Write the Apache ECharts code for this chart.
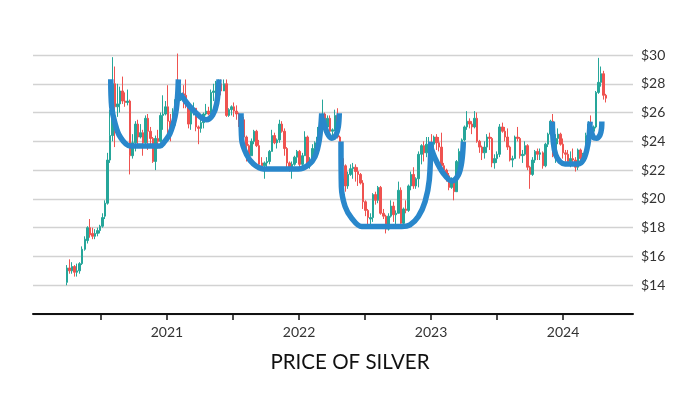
<!DOCTYPE html>
<html><head><meta charset="utf-8">
<script src="https://cdn.jsdelivr.net/npm/echarts@6/dist/echarts.min.js"></script>
<style>html,body{margin:0;padding:0;background:#fff}#c{width:700px;height:394px}</style>
</head><body><div id="c"></div>
<script>
const chartTitle = 'PRICE OF SILVER';
const firstWeek = '2020-03-30'; // Monday of the first weekly candle
// weekly candles: [open, close, low, high]
const ohlc2020 = [
[14.2,15.2,14.0,15.4],[15.2,15.0,14.8,15.8],[15.0,15.3,14.8,15.6],[15.3,14.9,14.6,15.4],[14.9,15.0,14.6,15.5],
[15.0,15.5,14.8,15.6],[15.5,16.5,15.4,16.7],[16.5,17.2,16.4,17.4],[17.1,18.0,16.9,18.1],[18.0,17.5,17.3,18.6],
[17.6,17.4,17.2,18.0],[17.4,17.6,17.2,17.9],[17.6,17.8,17.4,18.0],[17.8,18.1,17.6,18.2],[18.1,18.7,18.0,19.0],
[18.8,19.7,18.6,19.9],[19.7,22.7,19.6,23.2],[22.7,24.4,22.5,26.2],[24.4,28.0,24.0,29.85],[28.0,26.4,23.6,29.2],
[26.4,26.6,25.7,28.0],[26.6,27.5,26.0,27.8],[27.5,26.8,26.6,28.5],[26.8,26.7,26.4,27.4],[26.7,26.8,26.5,27.6],
[26.8,23.0,21.7,26.9],[23.0,23.9,22.8,24.5],[23.9,25.2,23.3,25.4],[25.2,24.3,23.8,25.5],[24.3,24.6,24.2,25.2],
[24.6,23.9,23.0,24.8],[23.9,25.6,23.6,25.8],[25.6,24.7,23.4,25.9],[24.7,24.2,23.8,25.0],[24.2,22.6,22.5,24.3],
[22.6,24.2,22.0,24.4],[24.2,24.0,23.5,24.8],[24.0,25.8,23.9,26.0],[25.8,25.9,24.8,27.2],[25.9,26.4,25.8,26.8]
];
const ohlc2021 = [
[26.4,25.4,24.5,27.9],[25.4,24.8,24.0,25.9],[24.8,25.6,24.8,26.3],[25.6,26.9,25.1,27.3],[27.0,26.9,25.9,30.1],
[26.9,27.3,26.8,27.9],[27.3,27.2,26.3,27.9],[27.2,26.6,26.3,28.3],[26.6,25.2,24.9,26.8],[25.2,26.2,24.8,26.3],
[26.2,26.3,25.8,26.7],[26.3,25.0,24.7,26.3],[25.0,24.9,23.8,25.1],[24.9,25.3,24.6,25.5],[25.3,25.9,24.9,26.0],
[25.9,26.1,25.8,26.6],[26.1,25.9,25.8,26.4],[25.9,27.4,25.9,27.6],[27.4,27.5,26.8,28.0],[27.5,27.9,27.1,28.2],
[27.9,28.0,27.6,28.3],[28.0,27.5,27.2,28.3],[27.5,28.0,27.5,28.3],[28.0,25.8,25.7,28.3],[25.8,26.2,25.7,26.3],
[26.2,26.4,25.8,26.5],[26.4,26.1,25.7,26.7],[26.1,25.9,25.5,26.5],[25.9,25.2,25.0,26.0],[25.2,25.5,24.7,25.8],
[25.5,24.3,24.2,25.7],[24.3,23.7,22.6,24.4],[23.7,23.0,22.9,23.8],[23.0,24.0,23.0,24.2],[24.0,24.7,23.8,24.8],
[24.7,23.7,23.6,24.8],[23.7,22.4,22.2,24.1],[22.5,22.3,22.0,22.9],[22.3,22.5,21.4,22.6],[22.5,22.6,22.2,22.9],
[22.6,23.3,22.4,23.4],[23.3,24.4,23.3,24.8],[24.4,23.9,23.8,24.6],[23.9,24.1,23.5,24.2],[24.1,25.2,23.9,25.5],
[25.2,24.7,24.6,25.4],[24.7,23.5,23.0,24.9],[23.5,22.5,22.1,23.6],[22.5,22.2,21.9,22.6],[22.2,22.4,21.4,22.6],
[22.4,22.9,22.3,23.0],[22.9,23.3,22.5,23.4]
];
const ohlc2022 = [
[23.3,22.4,22.0,23.4],[22.4,23.0,22.2,23.2],[23.0,24.3,23.0,24.7],[24.3,22.4,22.2,24.4],[22.3,22.5,22.1,22.9],
[22.5,23.5,22.4,23.8],[23.5,23.9,22.9,24.0],[23.9,24.3,23.4,25.0],[24.3,25.7,24.1,25.9],[25.7,25.9,25.4,26.9],
[25.9,25.0,24.6,26.0],[25.0,25.6,24.8,25.8],[25.6,24.7,24.5,25.8],[24.7,24.8,24.1,24.9],[24.8,25.8,24.7,26.2],
[25.8,24.3,24.2,26.3],[24.3,22.8,22.7,24.4],[22.8,22.3,22.0,23.0],[22.3,20.9,20.5,22.4],[20.9,21.7,20.7,21.9],
[21.7,22.1,21.6,22.4],[22.1,22.2,21.4,22.5],[22.2,21.9,21.2,22.4],[21.9,21.7,20.9,22.2],[21.7,21.1,21.0,21.8],
[21.1,19.8,19.3,21.3],[19.8,19.2,18.8,19.9],[19.2,18.7,18.1,19.3],[18.6,18.7,18.2,19.0],[18.7,20.3,18.4,20.4],
[20.3,19.9,19.6,20.5],[19.9,20.8,19.7,20.9],[20.8,19.0,18.9,20.9],[19.0,18.8,18.6,19.3],[18.8,17.9,17.6,18.9],
[17.9,18.8,17.8,19.0],[18.8,19.5,18.7,19.9],[19.5,18.9,18.4,19.8],[18.9,19.0,18.1,19.2],[19.0,20.6,19.0,21.2],
[20.6,18.3,18.1,20.8],[18.3,19.3,18.1,19.4],[19.3,19.2,19.0,19.9],[19.2,20.9,19.1,21.0],[20.9,21.7,20.6,21.9],
[21.7,20.9,20.7,22.2],[20.9,21.4,20.7,21.5],[21.4,23.1,20.8,23.3],[23.1,23.7,22.4,23.8],[23.7,23.2,22.6,24.0],
[23.2,23.8,22.9,24.3],[23.8,23.9,23.4,24.3]
];
const ohlc2023 = [
[23.9,23.8,23.2,24.5],[23.8,24.3,23.3,24.4],[24.3,23.9,23.4,24.5],[23.9,23.6,23.3,24.3],[23.6,22.3,22.1,24.6],
[22.3,22.0,21.8,22.5],[22.0,21.6,21.2,22.1],[21.6,20.8,20.6,21.8],[20.8,21.2,20.7,21.5],[21.2,20.5,19.9,21.3],
[20.5,22.6,20.5,22.7],[22.6,23.3,22.1,23.5],[23.3,24.1,22.9,24.2],[24.1,25.0,24.0,25.1],[25.0,25.4,24.8,26.1],
[25.4,25.2,24.9,25.6],[25.2,25.0,24.5,25.4],[25.0,25.6,24.9,26.1],[25.6,24.0,23.9,26.0],[24.0,23.6,23.2,24.1],
[23.6,23.2,22.7,23.7],[23.2,23.6,22.8,24.0],[23.6,24.3,23.2,24.5],[24.3,24.2,23.4,24.6],[24.2,22.5,22.2,24.3],
[22.5,22.8,22.1,23.1],[22.8,23.1,22.5,23.3],[23.1,25.0,22.9,25.2],[25.0,24.7,24.6,25.3],[24.7,24.3,24.0,25.0],
[24.3,23.6,23.4,24.9],[23.6,22.7,22.6,23.7],[22.7,22.8,22.2,23.0],[22.8,24.3,22.8,24.4],[24.3,24.2,24.0,25.0],
[24.2,23.0,22.8,24.3],[23.0,23.1,22.5,23.4],[23.1,23.7,23.0,24.0],[23.7,22.2,22.0,23.8],[22.2,21.7,20.7,22.3],
[21.7,22.7,21.6,22.9],[22.7,23.3,22.5,23.4],[23.3,23.1,22.7,23.5],[23.1,23.2,22.7,23.5],[23.2,22.3,22.1,23.3],
[22.3,23.8,22.2,23.9],[23.8,24.5,23.6,24.6],[24.5,25.4,24.4,25.5],[25.4,23.0,22.9,25.9],[23.0,24.2,22.5,24.5],
[24.2,24.5,23.8,24.9],[24.5,23.8,23.7,24.6]
];
const ohlc2024 = [
[23.8,23.2,22.8,24.2],[23.2,23.1,22.6,23.4],[23.1,22.6,22.5,23.4],[22.6,22.8,22.2,23.3],[22.8,22.7,22.5,23.5],
[22.7,22.2,21.9,22.9],[22.2,23.4,22.0,23.5],[23.4,22.8,22.6,23.5],[22.8,23.1,22.4,23.2],[23.1,24.4,23.1,24.6],
[24.4,25.2,24.2,25.4],[25.2,24.7,24.5,25.8],[24.7,25.0,24.5,25.1],[25.0,27.4,24.9,27.5],[27.4,28.1,27.3,29.8],
[28.1,28.7,27.8,29.2],[28.7,27.2,26.9,28.9],[27.2,27.0,26.7,27.3]
];
// cup-and-handle outlines: [fractional year, price]
const cup1 = [[2020.574,28.31],[2020.581,26.41],[2020.606,25.26],[2020.644,24.33],[2020.720,23.68],[2020.947,23.68],[2020.972,23.87],[2021.023,24.56],[2021.061,25.72],[2021.078,26.88],[2021.086,28.31]];
const handle1 = [[2021.100,27.30],[2021.174,26.41],[2021.250,25.72],[2021.300,25.50],[2021.346,25.83],[2021.377,26.65],[2021.394,28.31]];
const cup2 = [[2021.561,25.95],[2021.566,24.10],[2021.604,23.06],[2021.654,22.43],[2021.730,22.08],[2021.995,22.08],[2022.071,22.36],[2022.121,22.94],[2022.154,24.10],[2022.172,25.95]];
const handle2 = [[2022.178,25.60],[2022.215,24.56],[2022.248,24.22],[2022.280,24.44],[2022.298,25.02],[2022.305,25.95]];
const cup3 = [[2022.318,23.98],[2022.321,20.85],[2022.349,19.47],[2022.399,18.66],[2022.475,18.08],[2022.778,18.08],[2022.841,18.19],[2022.904,18.77],[2022.955,19.81],[2022.987,21.32],[2022.998,23.98]];
const handle3 = [[2022.995,23.70],[2023.030,22.83],[2023.093,21.78],[2023.157,21.25],[2023.207,21.67],[2023.233,22.59],[2023.245,23.98]];
const cup4 = [[2023.919,25.37],[2023.927,23.87],[2023.945,23.06],[2023.977,22.59],[2024.015,22.43],[2024.116,22.43],[2024.154,22.71],[2024.180,23.40],[2024.197,24.33],[2024.205,25.37]];
const handle4 = [[2024.208,25.00],[2024.230,24.28],[2024.255,24.22],[2024.280,24.44],[2024.292,24.91],[2024.294,25.37]];

const yTickValues = [12,14,16,18,20,22,24,26,28,30];
const xLabelYears = [2021, 2022, 2023, 2024];
const xTickYears = [2020.5, 2021, 2021.5, 2022, 2022.5, 2023, 2023.5, 2024];

function fracYear(ms) {
  const d = new Date(ms), y = d.getUTCFullYear();
  const s = Date.UTC(y, 0, 1), e = Date.UTC(y + 1, 0, 1);
  return y + (ms - s) / (e - s);
}
const allWeeks = [].concat(ohlc2020, ohlc2021, ohlc2022, ohlc2023, ohlc2024);
const t0 = Date.parse(firstWeek + 'T00:00:00Z');
const candleData = allWeeks.map((r, i) => [fracYear(t0 + i * 7 * 86400000), r[0], r[1], r[2], r[3]]);

const cupStyle = { color: '#2987cb', width: 5.5, cap: 'butt' };
const curves = [cup1, handle1, cup2, handle2, cup3, handle3, cup4, handle4].map(d => ({
  type: 'line', data: d, smooth: 0.35, showSymbol: false, symbol: 'none', silent: true, z: 5,
  lineStyle: cupStyle
}));

const chart = echarts.init(document.getElementById('c'), null, { renderer: 'canvas' });
chart.setOption({
  animation: false,
  backgroundColor: '#ffffff',
  title: {
    text: chartTitle, left: 'center', top: 347,
    textStyle: { fontFamily: 'Lato', fontSize: 20.5, fontWeight: 'normal', color: '#111' }
  },
  grid: { left: 33, right: 67, top: 55, bottom: 80 },
  xAxis: {
    type: 'value', min: 2019.985, max: 2024.53,
    axisLine: { show: true, lineStyle: { color: '#111', width: 2 } },
    axisTick: { show: true, customValues: xTickYears, length: 6, lineStyle: { color: '#111', width: 1.5 } },
    axisLabel: { customValues: xLabelYears, formatter: v => String(Math.round(v)), margin: 11,
      fontFamily: 'Lato', fontSize: 14, color: '#333' },
    splitLine: { show: false }
  },
  yAxis: {
    type: 'value', position: 'right', min: 12, max: 30, interval: 2,
    axisLine: { show: false }, axisTick: { show: false },
    axisLabel: { formatter: v => (v === yTickValues[0] ? '' : '$' + v), margin: 8,
      fontFamily: 'Lato', fontSize: 14, color: '#333' },
    splitLine: { lineStyle: { color: '#d2d2d2', width: 1.3 } }
  },
  series: [{
    type: 'candlestick', data: candleData, encode: { x: 0, y: [1, 2, 3, 4] },
    barWidth: 2, silent: true,
    itemStyle: { color: '#26a69a', color0: '#ef5350', borderColor: '#26a69a', borderColor0: '#ef5350', borderWidth: 1 }
  }].concat(curves)
});
</script></body></html>
